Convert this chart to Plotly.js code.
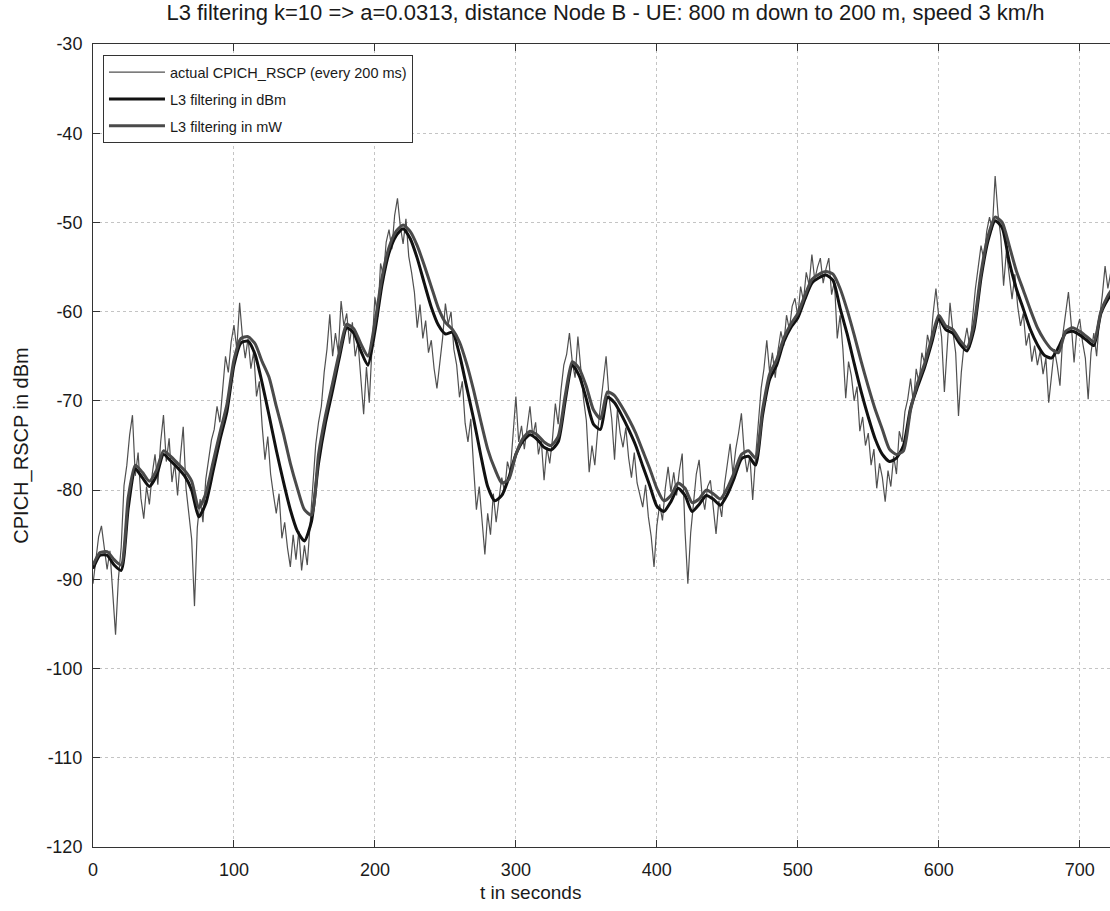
<!DOCTYPE html>
<html>
<head>
<meta charset="utf-8">
<script src="https://cdn.plot.ly/plotly-3.0.1.min.js"></script>
<style>
  html, body { margin: 0; padding: 0; background: #ffffff; overflow: hidden; }
  #chart { width: 1125px; height: 911px; }
</style>
</head>
<body>
<div id="chart"></div>
<script>
// Measured CPICH_RSCP in dBm, one value every 2 s starting at t = 0
const rscpStepS = 2;
const rscpMeasured = [
  -90.5, -87.6, -85.2, -84.0, -86.5,  -88.9, -86.8, -91.5, -96.2, -90.0,
  -86.4, -79.5, -77.2, -73.8, -71.6,  -78.4, -75.8, -80.9, -83.2, -79.6,
  -81.6, -78.2, -76.0, -79.4, -74.6,  -71.6, -76.8, -74.2, -79.1, -77.0,
  -80.6, -76.3, -72.9, -79.8, -82.4,  -85.5, -93.0, -84.2, -81.0, -83.6,
  -78.8, -76.4, -74.4, -73.2, -70.6,  -72.4, -68.5, -65.0, -66.8, -63.4,
  -61.5, -64.2, -59.0, -62.8, -65.2,  -63.0, -66.4, -64.5, -69.5, -67.8,
  -72.8, -76.6, -74.0, -78.2, -80.5,  -82.6, -80.4, -85.4, -83.6, -86.5,
  -88.6, -85.0, -87.8, -84.6, -89.0,  -86.2, -88.4, -84.0, -80.2, -74.9,
  -72.4, -70.6, -66.8, -64.2, -60.3,  -65.0, -62.4, -64.6, -58.8, -61.6,
  -60.2, -63.6, -61.2, -65.0, -63.4,  -67.8, -71.5, -66.2, -70.2, -63.8,
  -58.4, -60.6, -54.6, -56.0, -52.2,  -50.8, -53.0, -49.2, -47.3, -50.4,
  -52.4, -49.6, -53.8, -55.6, -57.8,  -61.8, -59.2, -63.0, -61.0, -64.6,
  -63.2, -66.4, -68.6, -65.8, -63.0,  -59.1, -61.4, -60.0, -64.2, -66.0,
  -69.6, -67.8, -72.5, -74.6, -72.0,  -77.4, -82.2, -79.6, -83.8, -87.2,
  -82.6, -85.0, -80.4, -83.6, -81.0,  -78.6, -80.2, -76.8, -78.0, -74.2,
  -69.5, -74.6, -72.8, -75.4, -73.0,  -70.6, -74.0, -72.4, -76.0, -74.4,
  -78.9, -75.2, -77.0, -74.2, -70.3,  -72.6, -68.8, -66.0, -64.8, -62.4,
  -65.6, -67.4, -62.8, -66.6, -69.8,  -72.2, -78.0, -75.0, -77.2, -73.4,
  -70.4, -68.2, -65.0, -69.4, -72.0,  -76.6, -71.0, -73.6, -75.2, -73.0,
  -76.4, -78.6, -75.8, -79.2, -80.6,  -81.9, -79.4, -83.0, -85.2, -88.6,
  -84.0, -81.6, -83.4, -79.8, -77.4,  -80.2, -78.0, -80.6, -77.8, -75.9,
  -84.6, -90.5, -84.8, -81.0, -78.2,  -76.6, -80.4, -82.2, -79.6, -78.9,
  -82.0, -84.9, -81.2, -83.0, -79.4,  -76.8, -74.8, -78.2, -75.4, -73.6,
  -71.4, -75.8, -78.0, -76.2, -81.1,  -76.4, -72.2, -68.6, -66.4, -63.2,
  -66.8, -64.6, -67.4, -64.3, -62.2,  -63.8, -60.4, -62.0, -59.4, -58.5,
  -60.6, -57.2, -58.8, -55.6, -57.0,  -53.6, -56.4, -55.0, -54.0, -56.8,
  -55.2, -54.0, -58.1, -56.6, -63.0,  -60.4, -64.2, -69.7, -65.6, -67.2,
  -70.0, -68.4, -73.4, -71.8, -75.0,  -73.6, -77.2, -75.4, -79.8, -77.0,
  -78.6, -81.3, -77.8, -79.6, -76.2,  -78.2, -73.4, -74.6, -71.2, -69.8,
  -67.5, -70.2, -66.4, -68.0, -64.6,  -65.8, -62.6, -64.0, -60.2, -57.4,
  -60.6, -62.8, -69.0, -63.4, -59.0,  -62.2, -64.6, -71.7, -66.8, -63.6,
  -61.8, -64.0, -60.2, -57.4, -55.0,  -52.6, -54.2, -51.0, -49.4, -50.8,
  -44.8, -49.0, -51.6, -57.1, -53.2,  -56.0, -58.6, -55.8, -59.4, -61.6,
  -60.2, -63.8, -62.4, -65.6, -63.8,  -66.0, -64.4, -67.0, -65.2, -70.2,
  -66.8, -64.2, -66.0, -68.3, -62.6,  -60.4, -57.8, -61.4, -65.7, -62.0,
  -60.8, -63.4, -65.2, -69.8, -64.6,  -62.4, -65.0, -60.8, -58.2, -54.9,
  -57.4, -55.6, -56.8
];

// Layer 3 filter outputs, one value every 5 s starting at t = 0
const filterStepS = 5;
const l3FilteredDbm = [
  -88.8, -87.3, -87.3, -88.4, -89.0, -82.0, -77.6, -78.6, -79.6, -78.4,
  -76.0, -76.7, -77.5, -78.4, -80.0, -83.0, -81.5, -78.0, -74.4, -71.2,
  -66.0, -63.5, -63.3, -64.8, -68.0, -71.7, -75.5, -79.0, -82.2, -84.6,
  -85.7, -83.5, -77.0, -72.4, -68.8, -65.0, -61.8, -62.4, -64.4, -66.0,
  -62.2, -57.0, -53.4, -51.5, -50.7, -51.8, -54.0, -56.8, -59.5, -61.5,
  -62.5, -62.3, -64.8, -68.4, -72.0, -76.0, -79.6, -81.2, -80.6, -78.6,
  -76.0, -74.5, -73.8, -74.3, -75.2, -75.5, -74.6, -70.0, -66.0, -67.2,
  -69.8, -72.6, -73.2, -69.6, -70.2, -71.6, -73.2, -75.0, -77.3, -79.5,
  -81.8, -82.4, -81.3, -79.8, -80.6, -82.4, -81.6, -80.6, -81.0, -81.7,
  -80.5, -78.6, -76.5, -76.2, -77.2, -71.6, -67.6, -66.0, -63.4, -61.8,
  -60.7, -58.6, -56.8, -56.2, -55.9, -56.5, -59.6, -62.5, -65.8, -69.0,
  -71.8, -74.3, -76.0, -76.8, -76.4, -75.0, -70.8, -68.4, -66.2, -63.5,
  -60.8, -62.0, -62.4, -63.6, -64.4, -62.0, -56.2, -52.0, -49.8, -50.6,
  -54.4, -57.4, -59.7, -62.0, -63.7, -64.9, -65.2, -64.0, -62.4, -62.2,
  -62.6, -63.2, -63.8, -60.2, -58.6, -57.5
];
const l3FilteredMw = [
  -88.4, -87.0, -86.9, -87.8, -88.4, -80.8, -77.2, -78.0, -79.0, -77.8,
  -75.6, -76.2, -77.0, -77.8, -79.0, -82.0, -80.4, -77.0, -73.6, -70.4,
  -65.4, -63.0, -62.8, -63.6, -65.6, -67.4, -70.6, -73.6, -77.0, -79.8,
  -82.2, -82.8, -76.0, -71.6, -68.0, -64.4, -61.4, -61.9, -63.6, -65.0,
  -61.2, -56.2, -52.8, -51.0, -50.3, -51.0, -52.6, -54.8, -57.2, -59.6,
  -61.2, -62.0, -63.4, -65.8, -68.8, -72.2, -75.4, -77.6, -79.2, -78.8,
  -76.0, -74.2, -73.4, -73.8, -74.6, -75.0, -74.0, -69.4, -65.6, -66.4,
  -68.4, -71.0, -72.0, -69.0, -69.4, -70.6, -72.0, -73.6, -75.6, -77.6,
  -79.8, -81.2, -80.6, -79.2, -79.8, -81.4, -81.0, -80.0, -80.4, -81.0,
  -79.8, -78.0, -76.0, -75.6, -76.4, -71.0, -67.0, -65.4, -63.0, -61.4,
  -60.2, -58.2, -56.4, -55.8, -55.5, -55.8, -57.4, -59.8, -62.6, -65.6,
  -68.4, -71.0, -73.2, -75.4, -76.0, -75.6, -71.0, -68.0, -65.8, -63.0,
  -60.4, -61.6, -62.0, -63.2, -64.0, -61.4, -55.6, -51.5, -49.4, -50.0,
  -52.6, -55.4, -57.6, -59.8, -61.8, -63.2, -64.2, -64.6, -62.2, -61.8,
  -62.2, -62.8, -63.4, -60.0, -58.2, -57.0
];

const seriesNames = [
  'actual CPICH_RSCP (every 200 ms)',
  'L3 filtering in dBm',
  'L3 filtering in mW'
];

// Axis ticks, labelled with a plain hyphen-minus
const xTickValues = [0, 100, 200, 300, 400, 500, 600, 700];
const xTickLabels = ['0', '100', '200', '300', '400', '500', '600', '700'];
const yTickValues = [-120, -110, -100, -90, -80, -70, -60, -50, -40, -30];
const yTickLabels = ['-120', '-110', '-100', '-90', '-80', '-70', '-60', '-50', '-40', '-30'];

const chartTitle = 'L3 filtering k=10 => a=0.0313, distance Node B - UE: 800 m down to 200 m, speed 3 km/h';
const xAxisTitle = 't in seconds';
const yAxisTitle = 'CPICH_RSCP in dBm';

const tMeasured = rscpMeasured.map((_, i) => i * rscpStepS);
const tFiltered = l3FilteredDbm.map((_, i) => i * filterStepS);

const fontFamily = '"Liberation Sans", Arial, Helvetica, sans-serif';
const textColor = '#1a1a1a';

const traces = [
  {
    x: tMeasured, y: rscpMeasured, name: seriesNames[0], legendgroup: 'a',
    type: 'scatter', mode: 'lines',
    line: { color: '#505050', width: 1.2 }
  },
  {
    x: tFiltered, y: l3FilteredDbm, name: seriesNames[1], legendgroup: 'b',
    type: 'scatter', mode: 'lines',
    line: { color: '#111111', width: 3, shape: 'spline', smoothing: 0.6 }
  },
  {
    x: tFiltered, y: l3FilteredMw, name: seriesNames[2], legendgroup: 'c',
    type: 'scatter', mode: 'lines',
    line: { color: '#4a4a4a', width: 3, shape: 'spline', smoothing: 0.6 }
  }
];

const axisCommon = {
  showline: true, linecolor: '#333333', linewidth: 1, mirror: 'ticks',
  ticks: 'inside', ticklen: 7, tickcolor: '#333333', tickwidth: 1,
  showgrid: true, gridcolor: '#c4c4c4', griddash: 'dot', gridwidth: 1,
  zeroline: false,
  tickfont: { family: fontFamily, size: 18, color: textColor }
};

const layout = {
  width: 1125, height: 911,
  margin: { l: 93, r: 3, t: 44, b: 64 },
  paper_bgcolor: '#ffffff', plot_bgcolor: '#ffffff',
  font: { family: fontFamily, color: textColor },
  title: {
    text: chartTitle,
    font: { family: fontFamily, size: 22, color: textColor },
    xref: 'paper', x: 0.498, xanchor: 'center',
    yref: 'container', y: 0.986, yanchor: 'middle'
  },
  xaxis: Object.assign({}, axisCommon, {
    range: [0, 730], tickmode: 'array',
    tickvals: xTickValues, ticktext: xTickLabels,
    ticklabelstandoff: 6
  }),
  yaxis: Object.assign({}, axisCommon, {
    range: [-120, -30], tickmode: 'array',
    tickvals: yTickValues, ticktext: yTickLabels,
    ticklabelstandoff: 6,
    title: { text: yAxisTitle, standoff: 12,
             font: { family: fontFamily, size: 20, color: textColor } }
  }),
  showlegend: true,
  legend: {
    x: 0.0097, y: 0.986, xanchor: 'left', yanchor: 'top',
    bgcolor: '#ffffff', bordercolor: '#333333', borderwidth: 1,
    font: { family: fontFamily, size: 14.5, color: textColor },
    itemwidth: 56,
    tracegroupgap: 5, traceorder: 'grouped'
  },
  annotations: [
    {
      text: xAxisTitle, xref: 'paper', yref: 'paper',
      x: 0.4247, y: -0.057, xanchor: 'center', yanchor: 'middle',
      showarrow: false,
      font: { family: fontFamily, size: 19, color: textColor }
    }
  ]
};

Plotly.newPlot('chart', traces, layout, { displayModeBar: false, responsive: false });
</script>
</body>
</html>
